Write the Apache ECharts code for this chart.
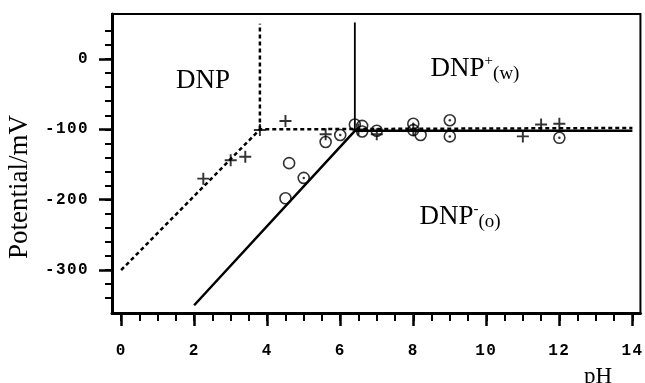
<!DOCTYPE html>
<html><head><meta charset="utf-8">
<script src="https://cdn.jsdelivr.net/npm/echarts@6/dist/echarts.min.js"></script>
<style>html,body{margin:0;padding:0;background:#fff}#c{width:645px;height:383px}</style>
</head><body><div id="c"></div>
<script>
// Tick values
const xTickLabels = [0, 2, 4, 6, 8, 10, 12, 14];
const xMinorTicks = [0, 0.5, 1, 1.5, 2, 2.5, 3, 3.5, 4, 4.5, 5, 5.5, 6, 6.5, 7, 7.5, 8, 8.5, 9, 9.5, 10, 10.5, 11, 11.5, 12, 12.5, 13, 13.5, 14];
const yTickLabels = [-300, -200, -100, 0];
const yMinorTicks = [-340, -320, -300, -280, -260, -240, -220, -200, -180, -160, -140, -120, -100, -80, -60, -40, -20, 0, 20, 40];

// Boundary lines (pH, mV)
const dashedBoundary = [[0, -300], [3.8, -100], [14, -98]];
const dashedVertical = [[3.8, -100], [3.8, 50]];
const solidBoundary = [[2, -350], [6.4, -102], [14, -102]];
const solidVertical = [[6.4, -102], [6.4, 52]];

// Measured points
const plusPoints = [[2.25, -170], [3.0, -144], [3.4, -139], [3.8, -101], [4.5, -88], [5.6, -107], [6.5, -100], [7.0, -107], [8.0, -101], [11.0, -110], [11.5, -93], [12.0, -92]];
const openCircles = [[4.6, -148], [4.5, -198], [5.6, -118], [6.4, -93], [6.6, -95], [6.6, -103], [7.0, -102], [8.0, -101], [8.2, -108]];
const dotCircles = [[5.0, -169], [6.0, -108], [8.0, -92], [9.0, -87], [9.0, -110], [12.0, -112]];

// widen the spacing of the monospace tick labels, as in the original print
(function () {
  const proto = CanvasRenderingContext2D.prototype;
  const origFill = proto.fillText;
  proto.fillText = function (t, x, y, m) {
    if ('letterSpacing' in this) {
      this.letterSpacing = (this.font && this.font.indexOf('Liberation Mono') >= 0) ? '1.4px' : '0px';
    }
    return m === undefined ? origFill.call(this, t, x, y) : origFill.call(this, t, x, y, m);
  };
})();

const chart = echarts.init(document.getElementById('c'));
const monoLabel = { fontFamily: 'Liberation Mono', fontWeight: 'bold', fontSize: 16, color: '#000' };
const black = '#000';
const serif = 'Liberation Serif';

const option = {
  animation: false,
  backgroundColor: '#fff',
  grid: { left: 112, top: 14, right: 3, bottom: 70, show: true, borderColor: black, borderWidth: 2 },
  xAxis: [
    { type: 'value', min: -0.25, max: 14.22, position: 'bottom',
      axisLine: { onZero: false, lineStyle: { color: black, width: 3 } },
      axisTick: { customValues: xTickLabels, length: 13, lineStyle: { color: black, width: 2.5 } },
      axisLabel: Object.assign({ customValues: xTickLabels, margin: 30 }, monoLabel),
      splitLine: { show: false } },
    { type: 'value', min: -0.25, max: 14.22, position: 'bottom',
      axisLine: { show: false, onZero: false },
      axisTick: { customValues: xMinorTicks, length: 8, lineStyle: { color: black, width: 2 } },
      axisLabel: { show: false }, splitLine: { show: false } }
  ],
  yAxis: [
    { type: 'value', min: -361, max: 64, position: 'left',
      axisLine: { onZero: false, lineStyle: { color: black, width: 3 } },
      axisTick: { customValues: yTickLabels, length: 13, lineStyle: { color: black, width: 2.5 } },
      axisLabel: Object.assign({ customValues: yTickLabels, margin: 23 }, monoLabel),
      splitLine: { show: false } },
    { type: 'value', min: -361, max: 64, position: 'left',
      axisLine: { show: false, onZero: false },
      axisTick: { customValues: yMinorTicks, length: 7, lineStyle: { color: black, width: 2 } },
      axisLabel: { show: false }, splitLine: { show: false } }
  ],
  series: [
    { type: 'line', data: dashedBoundary, symbol: 'none', silent: true,
      lineStyle: { color: black, width: 2.5, type: [4, 3] } },
    { type: 'line', data: dashedVertical, symbol: 'none', silent: true,
      lineStyle: { color: black, width: 2.5, type: [4, 3] } },
    { type: 'line', data: solidBoundary, symbol: 'none', silent: true,
      lineStyle: { color: black, width: 2.5 } },
    { type: 'line', data: solidVertical, symbol: 'none', silent: true,
      lineStyle: { color: black, width: 1.8 } },
    { type: 'scatter', data: openCircles.concat(dotCircles), symbol: 'circle', symbolSize: 11, silent: true,
      itemStyle: { color: 'rgba(0,0,0,0)', borderColor: black, borderWidth: 1.6 } },
    { type: 'scatter', data: dotCircles, symbol: 'circle', symbolSize: 2.5, silent: true,
      itemStyle: { color: black } },
    { type: 'scatter', data: plusPoints, symbolSize: 12, silent: true,
      symbol: 'path://M8.4,0h3.2v8.4h8.4v3.2h-8.4v8.4h-3.2v-8.4h-8.4v-3.2h8.4z',
      itemStyle: { color: black } }
  ],
  graphic: [
    { type: 'text', x: 20, y: 187, rotation: Math.PI / 2,
      style: { text: 'Potential/mV', font: '27px "Liberation Serif"', fill: black, align: 'center', verticalAlign: 'middle' } },
    { type: 'text', x: 598, y: 377,
      style: { text: 'pH', font: '23px "Liberation Serif"', fill: black, align: 'center', verticalAlign: 'middle' } },
    { type: 'text', x: 203, y: 81,
      style: { text: 'DNP', font: '27px "Liberation Serif"', fill: black, align: 'center', verticalAlign: 'middle' } },
    { type: 'text', x: 475, y: 69,
      style: { text: '{m|DNP}{p|+}{s|(w)}', align: 'center', verticalAlign: 'middle', fill: black,
        rich: {
          m: { fontSize: 27, fontFamily: serif, lineHeight: 30, fill: black },
          p: { fontSize: 15, fontFamily: serif, lineHeight: 20, verticalAlign: 'top', fill: black },
          s: { fontSize: 19, fontFamily: serif, lineHeight: 21, verticalAlign: 'bottom', fill: black }
        } } },
    { type: 'text', x: 460, y: 217,
      style: { text: '{m|DNP}{p|-}{s|(o)}', align: 'center', verticalAlign: 'middle', fill: black,
        rich: {
          m: { fontSize: 27, fontFamily: serif, lineHeight: 30, fill: black },
          p: { fontSize: 15, fontFamily: serif, lineHeight: 16, verticalAlign: 'top', fill: black },
          s: { fontSize: 19, fontFamily: serif, lineHeight: 24, verticalAlign: 'bottom', fill: black }
        } } }
  ]
};
chart.setOption(option);
</script>
</body></html>
